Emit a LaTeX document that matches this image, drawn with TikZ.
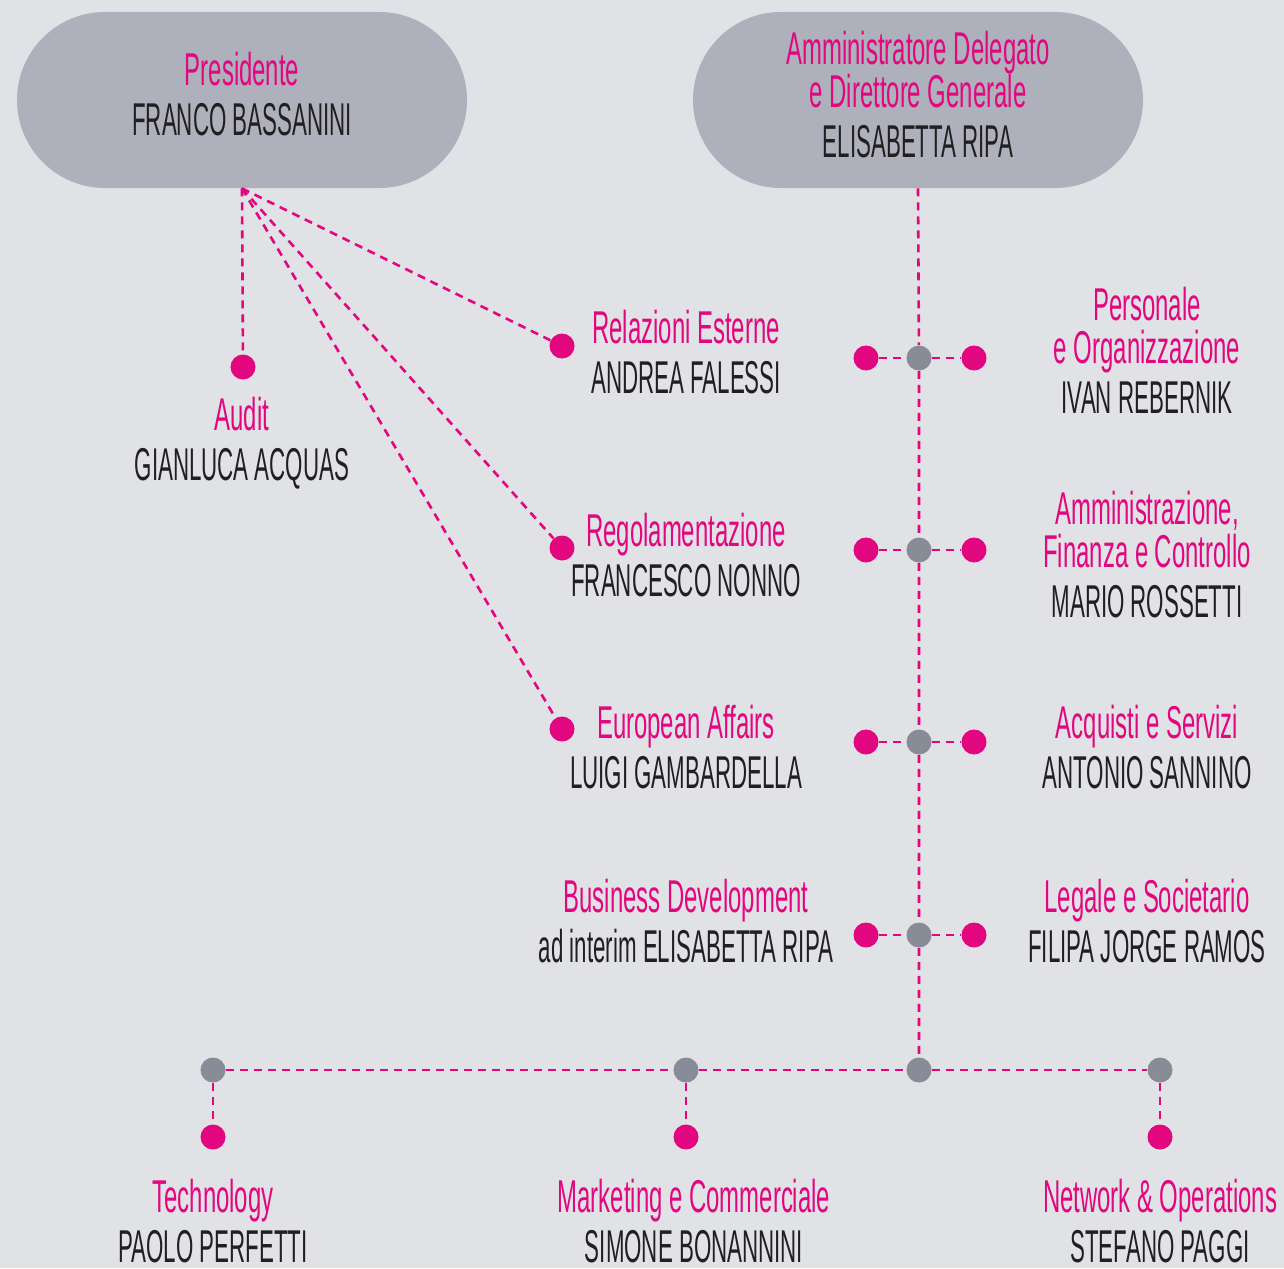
\documentclass[tikz,border=0pt]{standalone}
\usepackage{fontspec}
\setmainfont{Liberation Sans}[FakeStretch=0.52]
\newfontfamily\nomefont{Liberation Sans}[FakeStretch=0.485]
\usetikzlibrary{shapes.misc, positioning}

\definecolor{rosa}{HTML}{E2077F}
\definecolor{grigio}{HTML}{878C96}
\definecolor{pillola}{HTML}{AEB0BB}
\definecolor{fondo}{HTML}{E1E2E6}
\definecolor{nero}{HTML}{231F20}

\newcommand{\nome}[1]{\\[3.25pt]\textcolor{nero}{\nomefont #1}}

\begin{document}
\begin{tikzpicture}[x=0.5pt,y=-0.5pt,
		pill/.style={rounded rectangle, fill=pillola, minimum width=225pt, minimum height=88pt, inner sep=0pt},
		testo/.style={anchor=base, align=center, text=rosa, inner sep=0pt, font=\fontsize{23}{21.5}\selectfont},
		punto/.style={circle, fill=rosa, minimum size=12.5pt, inner sep=0pt},
		snodo/.style={circle, fill=grigio, minimum size=12.5pt, inner sep=0pt},
		link/.style={rosa, line width=1.3pt, dash pattern=on 4pt off 3pt}]
	\fill[fondo] (0,0) rectangle (1284,1268);
	\useasboundingbox (0,0) rectangle (1284,1268);
	% vertici
	\node[pill] (pres) at (242,100) {};
	\node[pill] (ad)   at (918,100) {};
	\node[testo] (presT) at (242,135) {Presidente\nome{FRANCO BASSANINI}};
	\node[testo] (adT)   at (918,157) {Amministratore Delegato\\e Direttore Generale\nome{ELISABETTA RIPA}};
	% staff del presidente
	\node[punto] (audit)  at (243,367) {};
	\node[punto] (relaz)  at (562,346) {};
	\node[punto] (regol)  at (562,548) {};
	\node[punto] (europa) at (562,729) {};
	\draw[link] (pres.south) -- (audit);
	\draw[link] (pres.south) -- (relaz);
	\draw[link] (pres.south) -- (regol);
	\draw[link] (pres.south) -- (europa);
	\node[testo] (auditT)  at (242,480) {Audit\nome{GIANLUCA ACQUAS}};
	\node[testo] (relazT)  at (686,393) {Relazioni Esterne\nome{ANDREA FALESSI}};
	\node[testo] (regolT)  at (686,596) {Regolamentazione\nome{FRANCESCO NONNO}};
	\node[testo] (europaT) at (686,788) {European Affairs\nome{LUIGI GAMBARDELLA}};
	% linea dell'AD
	\node[snodo] (s1)  at (919,358)  {};
	\node[snodo] (s2)  at (919,550)  {};
	\node[snodo] (s3)  at (919,742)  {};
	\node[snodo] (s4)  at (919,935)  {};
	\node[snodo] (hub) at (919,1070) {};
	\draw[link] (ad.south) -- (s1) -- (s2) -- (s3) -- (s4) -- (hub);
	\node[punto] (sx1) at (866,358) {};
	\node[punto] (dx1) at (974,358) {};
	\node[punto] (sx2) at (866,550) {};
	\node[punto] (dx2) at (974,550) {};
	\node[punto] (sx3) at (866,742) {};
	\node[punto] (dx3) at (974,742) {};
	\node[punto] (sx4) at (866,935) {};
	\node[punto] (dx4) at (974,935) {};
	\draw[link] (sx1) -- (s1) -- (dx1);
	\draw[link] (sx2) -- (s2) -- (dx2);
	\draw[link] (sx3) -- (s3) -- (dx3);
	\draw[link] (sx4) -- (s4) -- (dx4);
	\node[testo] (persT) at (1147,413) {Personale\\e Organizzazione\nome{IVAN REBERNIK}};
	\node[testo] (afcT)  at (1147,617) {Amministrazione,\\Finanza e Controllo\nome{MARIO ROSSETTI}};
	\node[testo] (acqT)  at (1147,788) {Acquisti e Servizi\nome{ANTONIO SANNINO}};
	\node[testo] (legT)  at (1147,962) {Legale e Societario\nome{FILIPA JORGE RAMOS}};
	\node[testo] (busT)  at (686,962)  {Business Development\nome{ad interim ELISABETTA RIPA}};
	% prime linee in basso
	\node[snodo] (tec) at (213,1070)  {};
	\node[snodo] (mkt) at (686,1070)  {};
	\node[snodo] (net) at (1160,1070) {};
	\draw[link] (tec) -- (mkt) -- (hub) -- (net);
	\node[punto] (tecP) at (213,1137)  {};
	\node[punto] (mktP) at (686,1137)  {};
	\node[punto] (netP) at (1160,1137) {};
	\draw[link] (tec) -- (tecP);
	\draw[link] (mkt) -- (mktP);
	\draw[link] (net) -- (netP);
	\node[testo] (tecT) at (213,1262)  {Technology\nome{PAOLO PERFETTI}};
	\node[testo] (mktT) at (694,1262)  {Marketing e Commerciale\nome{SIMONE BONANNINI}};
	\node[testo] (netT) at (1160,1262) {Network \& Operations\nome{STEFANO PAGGI}};
\end{tikzpicture}
\end{document}
